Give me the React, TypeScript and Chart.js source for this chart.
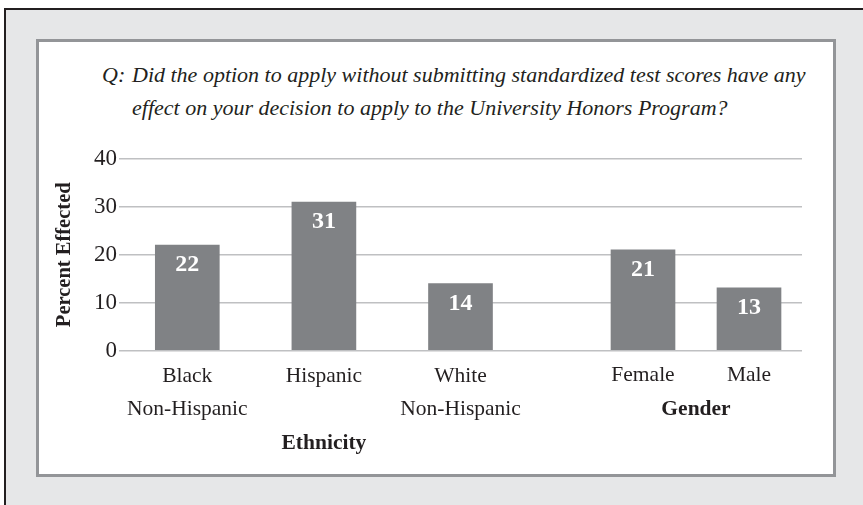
import React, { useEffect, useRef } from 'react';
import { Chart, registerables } from 'chart.js';

Chart.register(...registerables);

// ---- data ----
const ethnicityLabels: string[][] = [['Black', 'Non-Hispanic'], ['Hispanic'], ['White', 'Non-Hispanic']];
const ethnicityValues: number[] = [22, 31, 14];
const genderLabels: string[] = ['Female', 'Male'];
const genderValues: number[] = [21, 13];
const yTickValues: number[] = [0, 10, 20, 30, 40];
const groupTitles: string[] = ['Ethnicity', 'Gender'];
const yAxisTitle = 'Percent Effected';
const questionPrefix = 'Q:';
const questionLines: string[] = [
  'Did the option to apply without submitting standardized test scores have any',
  'effect on your decision to apply to the University Honors Program?',
];

// ---- styles ----
const FONT = '"Liberation Serif", "Times New Roman", serif';
const TEXT = '#231f20';
const BAR = '#808285';
const GRID = '#bfc0c2';
const ROW = 33.5;
const LABEL_SIZE = 21.5;

const barValueLabels = {
  id: 'barValueLabels',
  afterDatasetsDraw(chart: any) {
    const ctx = chart.ctx;
    chart.data.datasets.forEach((ds: any, di: number) => {
      const meta = chart.getDatasetMeta(di);
      meta.data.forEach((el: any, i: number) => {
        const v = ds.data[i];
        if (v === null || v === undefined) return;
        ctx.save();
        ctx.fillStyle = '#ffffff';
        ctx.font = `bold 24px ${FONT}`;
        ctx.textAlign = 'center';
        ctx.textBaseline = 'middle';
        ctx.fillText(String(v), el.x, el.y + 20);
        ctx.restore();
      });
    });
  },
};

function tickFont(size: number, bold = false) {
  return { family: FONT, size, weight: bold ? 'bold' : 'normal', lineHeight: ROW / size } as any;
}

export default function App() {
  const refA = useRef<HTMLCanvasElement>(null);
  const refB = useRef<HTMLCanvasElement>(null);

  useEffect(() => {
    Chart.defaults.font.family = FONT;
    Chart.defaults.color = TEXT;

    const padSlots = genderLabels.length; // empty slots on the right, shared grid area
    const labelsA = [...ethnicityLabels, ...Array(padSlots).fill('')];
    const dataA = [...ethnicityValues, ...Array(padSlots).fill(null)];
    const groupRowA = labelsA.map((_, i) => (i === Math.floor(ethnicityLabels.length / 2) ? groupTitles[0] : ''));

    const yMin = Math.min(...yTickValues);
    const yMax = Math.max(...yTickValues);

    const chartA = new Chart(refA.current!, {
      type: 'bar',
      data: {
        labels: labelsA,
        datasets: [{ data: dataA, backgroundColor: BAR, barThickness: 64 }],
      },
      options: {
        responsive: false,
        animation: false,
        events: [],
        layout: { padding: { top: 30, right: 18, left: 0, bottom: 0 } },
        plugins: { legend: { display: false }, tooltip: { enabled: false }, title: { display: false } },
        scales: {
          x: {
            type: 'category',
            offset: true,
            grid: { display: false, drawTicks: false },
            border: { display: false },
            ticks: { font: tickFont(LABEL_SIZE), color: TEXT, padding: 9, maxRotation: 0, autoSkip: false },
            afterFit: (s: any) => { s.height = 2 * ROW + 9; },
          },
          x2: {
            type: 'category',
            position: 'bottom',
            weight: 1,
            labels: groupRowA,
            offset: true,
            grid: { display: false, drawTicks: false },
            border: { display: false },
            ticks: { font: tickFont(LABEL_SIZE, true), color: TEXT, padding: 0, maxRotation: 0, autoSkip: false },
            afterFit: (s: any) => { s.height = ROW; },
          },
          y: {
            min: yMin,
            max: yMax,
            grid: { color: GRID, lineWidth: 1.5, drawTicks: false },
            border: { display: false },
            ticks: { font: { family: FONT, size: 23 }, color: TEXT, padding: 2 },
            afterBuildTicks: (s: any) => { s.ticks = yTickValues.map((v) => ({ value: v })); },
            title: {
              display: true,
              text: yAxisTitle,
              color: TEXT,
              font: { family: FONT, size: 20.5, weight: 'bold', lineHeight: 1.2 },
              padding: { top: 12, bottom: 0 },
            },
            afterFit: (s: any) => { s.width = 79; },
          },
        },
      } as any,
      plugins: [barValueLabels],
    });

    const chartB = new Chart(refB.current!, {
      type: 'bar',
      data: {
        labels: genderLabels,
        datasets: [{ data: genderValues, backgroundColor: BAR, barThickness: 64 }],
      },
      options: {
        responsive: false,
        animation: false,
        events: [],
        layout: { padding: { top: 30, right: 0, left: 0, bottom: 0 } },
        plugins: { legend: { display: false }, tooltip: { enabled: false }, title: { display: false } },
        scales: {
          x: {
            type: 'category',
            offset: true,
            grid: { display: false, drawTicks: false },
            border: { display: false },
            ticks: { font: tickFont(LABEL_SIZE), color: TEXT, padding: 9, maxRotation: 0, autoSkip: false },
            title: {
              display: true,
              text: groupTitles[1],
              color: TEXT,
              font: tickFont(LABEL_SIZE, true),
              padding: { top: 0, bottom: 0 },
            },
            afterFit: (s: any) => { s.height = 2 * ROW + 9; },
          },
          y: {
            display: false,
            min: yMin,
            max: yMax,
          },
        },
      } as any,
      plugins: [barValueLabels],
    });

    return () => {
      chartA.destroy();
      chartB.destroy();
    };
  }, []);

  return (
    <div style={{ position: 'absolute', left: 0, top: 0, width: 863, height: 505, background: '#ffffff', overflow: 'hidden' }}>
      <div
        style={{
          position: 'absolute', left: 4, top: 8, width: 859, height: 497, boxSizing: 'border-box',
          background: '#e6e7e8', borderTop: '2px solid #231f20', borderLeft: '2px solid #231f20',
        }}
      />
      <div
        style={{
          position: 'absolute', left: 36, top: 39, width: 800, height: 438, boxSizing: 'border-box',
          background: '#ffffff', border: '3px solid #939598',
        }}
      />
      <div
        style={{
          position: 'absolute', left: 102, top: 58, display: 'flex', fontFamily: FONT, fontStyle: 'italic',
          fontSize: 22, lineHeight: '33px', color: TEXT, whiteSpace: 'nowrap',
        }}
      >
        <span style={{ width: 30, flex: 'none' }}>{questionPrefix}</span>
        <div>
          {questionLines.map((l, i) => (
            <div key={i}>{l}</div>
          ))}
        </div>
      </div>
      <canvas ref={refA} width={780} height={331} style={{ position: 'absolute', left: 40, top: 129, width: 780, height: 331 }} />
      <canvas ref={refB} width={212} height={297} style={{ position: 'absolute', left: 590, top: 129, width: 212, height: 297 }} />
    </div>
  );
}
